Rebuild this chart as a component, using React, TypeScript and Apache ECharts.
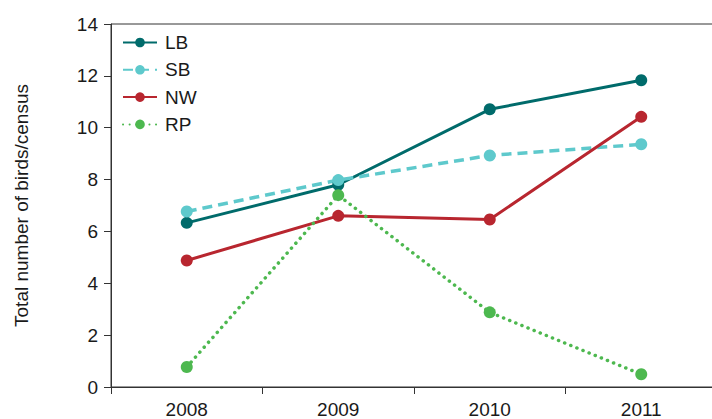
import React, { useEffect, useRef } from "react";
import * as echarts from "echarts";

const years = ["2008", "2009", "2010", "2011"];
const lbValues = [6.33, 7.8, 10.71, 11.83];
const sbValues = [6.77, 7.98, 8.93, 9.36];
const nwValues = [4.88, 6.6, 6.46, 10.42];
const rpValues = [0.77, 7.4, 2.88, 0.49];

const FONT = "Liberation Sans, Arial, Helvetica, sans-serif";

export default function App() {
  const ref = useRef<HTMLDivElement>(null);
  useEffect(() => {
    if (!ref.current) return;
    const chart = echarts.init(ref.current, null, { renderer: "svg" });
    const mk = (name: string, data: number[], color: string, type: any, cap: any) => ({
      name,
      type: "line",
      data,
      symbol: "circle",
      symbolSize: 12,
      showSymbol: true,
      lineStyle: { color, width: type === "solid" ? 3 : 3.5, type, cap },
      itemStyle: { color, borderWidth: 0 },
      emphasis: { disabled: true },
    });
    chart.setOption({
      animation: false,
      textStyle: { fontFamily: FONT },
      grid: {
        left: 111,
        right: -5,
        top: 24,
        bottom: 32,
        outerBoundsMode: "none",
        containLabel: false,
        show: true,
        borderColor: "#333",
        borderWidth: 1,
        backgroundColor: "transparent",
      },
      legend: {
        orient: "vertical",
        left: 117,
        top: 28,
        itemWidth: 34,
        itemHeight: 12,
        itemGap: 8.3,
        textStyle: { fontSize: 19, color: "#1a1a1a", fontFamily: FONT, padding: [0, 0, 0, 3] },
        data: ["LB", "SB", "NW", "RP"],
      },
      xAxis: {
        type: "category",
        data: years,
        boundaryGap: true,
        axisLine: { lineStyle: { color: "#333", width: 1 } },
        axisTick: { show: true, length: 7, alignWithLabel: false, lineStyle: { color: "#333" } },
        axisLabel: { fontSize: 19, lineHeight: 19, color: "#1a1a1a", margin: 13, fontFamily: FONT },
      },
      yAxis: {
        type: "value",
        min: 0,
        max: 14,
        interval: 2,
        name: "Total number of birds/census",
        nameLocation: "middle",
        nameGap: 80,
        nameTextStyle: { fontSize: 19, color: "#1a1a1a", fontFamily: FONT },
        splitLine: { show: false },
        axisLine: { show: true, lineStyle: { color: "#333", width: 1 } },
        axisTick: { show: true, inside: false, length: 7, lineStyle: { color: "#333" } },
        axisLabel: { fontSize: 19, color: "#1a1a1a", margin: 13, fontFamily: FONT },
      },
      series: [
        mk("LB", lbValues, "#006b6b", "solid", "butt"),
        mk("SB", sbValues, "#5ec9cc", [10, 6], "butt"),
        mk("NW", nwValues, "#b8262f", "solid", "butt"),
        mk("RP", rpValues, "#4db84f", [0.1, 6.5], "round"),
      ],
    });
    return () => chart.dispose();
  }, []);
  return <div ref={ref} style={{ width: 712, height: 419, position: "absolute", left: 0, top: 0 }} />;
}
